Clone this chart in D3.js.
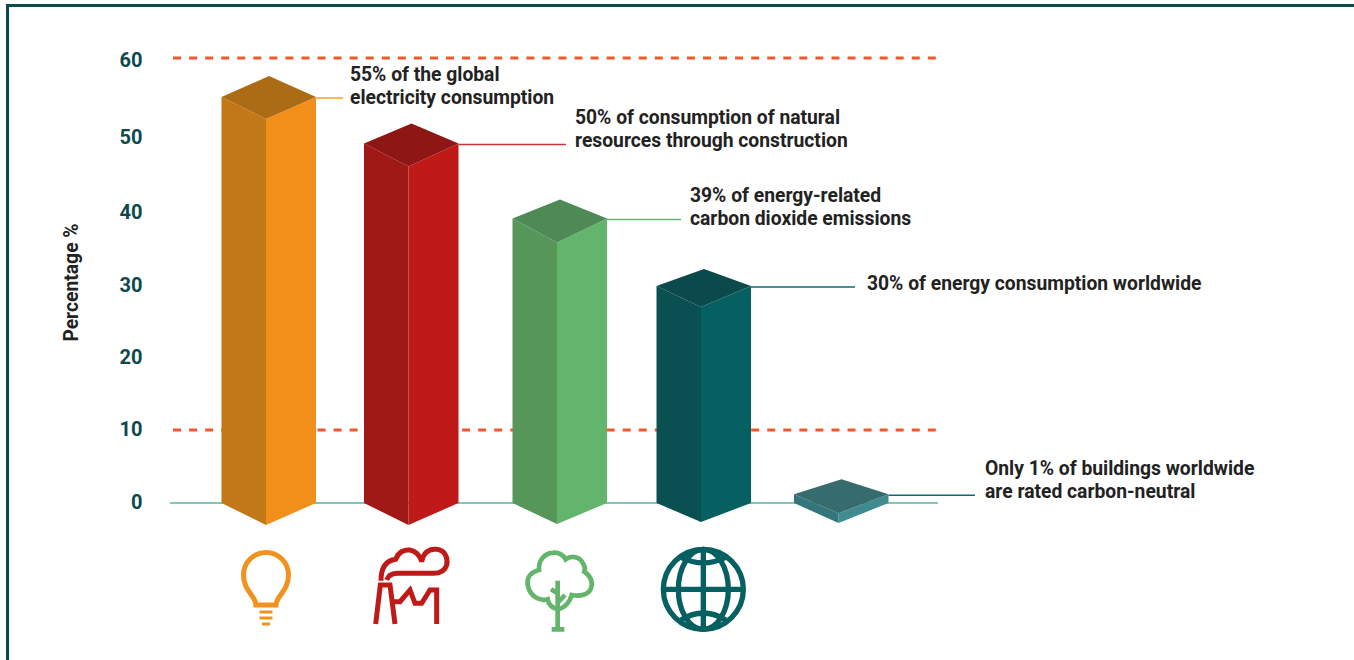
<!DOCTYPE html>
<html>
<head>
<meta charset="utf-8">
<script src="https://cdn.jsdelivr.net/npm/d3@7"></script>
<style>
  html, body { margin: 0; padding: 0; background: #fff; overflow: hidden; }
  text { font-family: Roboto, sans-serif; }
</style>
</head>
<body>
<div id="chart"></div>
<script>
const categories = ["Electricity", "Natural resources", "Carbon emissions", "Energy", "Buildings"];
const values = [55, 49, 39, 30, 1.2];
const yTicks = [0, 10, 20, 30, 40, 50, 60];
const refLines = [60, 10];
const labels = [
  ["55% of the global", "electricity consumption"],
  ["50% of consumption of natural", "resources through construction"],
  ["39% of energy-related", "carbon dioxide emissions"],
  ["30% of energy consumption worldwide"],
  ["Only 1% of buildings worldwide", "are rated carbon-neutral"]
];

const width = 1354;
const height = 660;

const svg = d3
  .select("#chart")
  .append("svg")
  .attr("width", width)
  .attr("height", height);

// the source graphic is hand drawn, its ticks are not quite evenly spaced
const yScale = d3
  .scaleLinear()
  .domain(yTicks)
  .range([503, 430, 358, 286, 211, 136, 58]);

const xScale = d3
  .scaleOrdinal()
  .domain(categories)
  .range([266, 408.5, 557, 701, 838.5]);

const pick = (range) => d3.scaleOrdinal().domain(categories).range(range);
const apexRise = pick([21, 20, 19, 17, 15]);
const frontDrop = pick([22, 23, 24, 21, 19]);
const bottomDrop = pick([22, 22, 21, 19, 20]);
const leftColor = pick(["#c27718", "#a01916", "#569658", "#0a5053", "#33767b"]);
const rightColor = pick(["#f18f1a", "#c01a18", "#62b56a", "#065f60", "#3f8b8f"]);
const topColor = pick(["#ac6c16", "#8e1715", "#4f8a56", "#0b4a4c", "#376c6f"]);
const lineColor = pick(["#f5a02a", "#c8323a", "#62b56a", "#0f6a70", "#0f6a70"]);
const lineEnd = pick([343, 566, 681, 855, 975]);
const labelX = pick([350, 575, 690, 867, 985]);
const labelY = pick([80.5, 124, 202, 290, 475]);

const halfLeft = 44.5;
const halfRight = 50;
const baseY = yScale(0);

// frame
svg
  .append("path")
  .attr("d", `M7.5,${height} V5.5 H${width}`)
  .attr("fill", "none")
  .attr("stroke", "#0b4a4c")
  .attr("stroke-width", 3);

// y axis
const gy = svg
  .append("g")
  .attr("transform", "translate(142.5,-0.5)")
  .call(d3.axisLeft(yScale).tickValues(yTicks).tickSize(0).tickPadding(0));
gy.select(".domain").remove();
gy.selectAll("text")
  .style("font-family", "Roboto, sans-serif")
  .style("font-size", "20px")
  .style("font-weight", 700)
  .attr("fill", "#0b4a4c")
  .attr("y", (d) => (d === 60 ? 2.5 : d >= 40 ? 1.5 : 0));

svg
  .append("text")
  .attr("transform", "translate(77.5,282.5) rotate(-90)")
  .attr("text-anchor", "middle")
  .attr("font-size", 19.3)
  .attr("font-weight", 700)
  .attr("fill", "#222")
  .text("Percentage %");

// reference lines
svg
  .selectAll(".ref")
  .data(refLines)
  .enter()
  .append("line")
  .attr("class", "ref")
  .attr("x1", 173)
  .attr("x2", 937)
  .attr("y1", (d) => yScale(d))
  .attr("y2", (d) => yScale(d))
  .attr("stroke", "#f4572e")
  .attr("stroke-width", 3)
  .attr("stroke-dasharray", "8 8.06");

svg
  .append("line")
  .attr("x1", 170)
  .attr("x2", 938)
  .attr("y1", baseY)
  .attr("y2", baseY)
  .attr("stroke", "#7fc8b5")
  .attr("stroke-width", 2);

// bars
const rows = categories.map((c, i) => ({ c, v: values[i], lines: labels[i] }));
const poly = (pts) => pts.map((p) => p.join(",")).join(" ");

const bars = svg
  .selectAll(".bar")
  .data(rows)
  .enter()
  .append("g")
  .attr("class", "bar");

bars
  .append("polygon")
  .attr("fill", (d) => leftColor(d.c))
  .attr("points", (d) => {
    const x = xScale(d.c);
    const y = yScale(d.v);
    return poly([
      [x - halfLeft, y],
      [x, y + frontDrop(d.c)],
      [x, baseY + bottomDrop(d.c)],
      [x - halfLeft, baseY]
    ]);
  });

bars
  .append("polygon")
  .attr("fill", (d) => rightColor(d.c))
  .attr("points", (d) => {
    const x = xScale(d.c);
    const y = yScale(d.v);
    return poly([
      [x, y + frontDrop(d.c)],
      [x + halfRight, y],
      [x + halfRight, baseY],
      [x, baseY + bottomDrop(d.c)]
    ]);
  });

bars
  .append("polygon")
  .attr("fill", (d) => topColor(d.c))
  .attr("points", (d) => {
    const x = xScale(d.c);
    const y = yScale(d.v);
    return poly([
      [x - halfLeft, y],
      [x + 3, y - apexRise(d.c)],
      [x + halfRight, y],
      [x, y + frontDrop(d.c)]
    ]);
  });

// connectors and notes
bars
  .append("line")
  .attr("x1", (d) => xScale(d.c) + halfRight)
  .attr("x2", (d) => lineEnd(d.c))
  .attr("y1", (d) => yScale(d.v) + 1)
  .attr("y2", (d) => yScale(d.v) + 1)
  .attr("stroke", (d) => lineColor(d.c))
  .attr("stroke-width", 1.5);

bars
  .append("text")
  .attr("font-size", 19.3)
  .attr("font-weight", 700)
  .attr("fill", "#222")
  .attr("y", (d) => labelY(d.c))
  .selectAll("tspan")
  .data((d) => d.lines.map((t) => ({ t, c: d.c })))
  .enter()
  .append("tspan")
  .attr("x", (d) => labelX(d.c))
  .attr("dy", (d, i) => (i ? 23 : 0))
  .text((d) => d.t);

// icons, traced at 3x so each group is scaled back down
const icons = svg.append("g").attr("fill", "none");

const bulb = icons
  .append("g")
  .attr("transform", `translate(${xScale(categories[0])},590)`)
  .attr("stroke", "#f0931e")
  .attr("stroke-width", 5);
bulb
  .append("path")
  .attr("d", "M-10,15 C-10,6 -22.5,1 -22.5,-15 A22.5,22.5 0 1 1 22.5,-15 C22.5,1 10,6 10,15 Z");
bulb
  .selectAll(".thread")
  .data([22, 28, 34])
  .enter()
  .append("line")
  .attr("x1", (d) => (d === 34 ? -4 : -6.5))
  .attr("x2", (d) => (d === 34 ? 4 : 6.5))
  .attr("y1", (d) => d)
  .attr("y2", (d) => d)
  .attr("stroke-width", 3);

const factory = icons
  .append("g")
  .attr("transform", "translate(365,540) scale(0.3333)")
  .attr("stroke", "#c01a18")
  .attr("stroke-width", 15);
factory
  .append("path")
  .attr("d", "M48,122 C48,85 60,62 92,58 C100,35 120,28 135,30 C150,32 165,45 170,65 C175,40 190,25 215,28 C240,30 250,55 245,75 C240,92 225,100 205,100 H100 C85,100 70,105 65,120");
factory.append("path").attr("d", "M32,252 L46,135 H75 L90,252");
factory.append("path").attr("d", "M85,185 H105 L135,150 L150,190 H170 L195,150 H215 V252");

const tree = icons
  .append("g")
  .attr("transform", "translate(515,540) scale(0.3333)")
  .attr("stroke", "#62b56a")
  .attr("stroke-width", 14);
tree
  .append("path")
  .attr("d", "M128,207 C110,205 100,190 98,178 C75,185 45,170 38,135 C35,110 50,95 72,90 C70,65 85,40 115,38 C130,36 145,45 152,58 C170,45 195,50 205,72 C210,80 210,90 208,95 C225,105 235,125 228,145 C220,165 195,170 170,165 C165,185 150,205 128,207 Z");
tree.append("path").attr("d", "M128,122 V268 M110,268 H148 M128,160 L108,148 M128,188 L150,165");

const globe = icons
  .append("g")
  .attr("transform", "translate(655,540) scale(0.3333)")
  .attr("stroke", "#065f60")
  .attr("stroke-width", 16);
globe.append("circle").attr("cx", 145).attr("cy", 148).attr("r", 120);
globe.append("ellipse").attr("cx", 145).attr("cy", 148).attr("rx", 75).attr("ry", 120);
globe.append("path").attr("d", "M145,27 V269 M24,148 H266 M78,52 Q145,85 212,52 M78,240 Q145,198 212,240");
</script>
</body>
</html>
